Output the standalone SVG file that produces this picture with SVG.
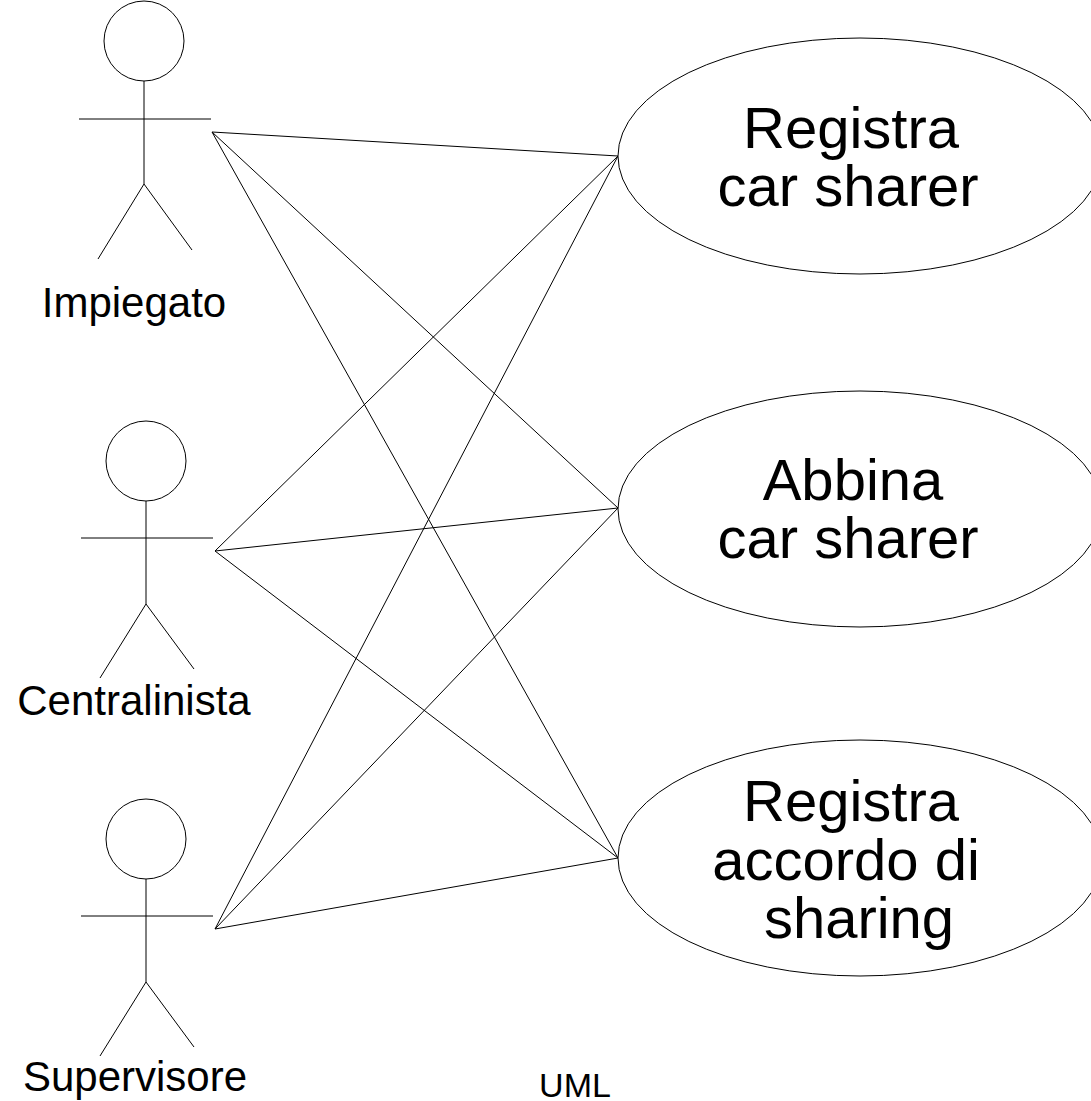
<svg xmlns="http://www.w3.org/2000/svg" width="1091" height="1101" viewBox="0 0 1091 1101">
<style>
line,circle,ellipse{fill:none;stroke:#000;stroke-width:1}
ellipse,circle{fill:#fff}
text{font-family:"Liberation Sans",Arial,sans-serif;fill:#000;text-anchor:middle}
.a{font-size:42px}.u{font-size:58px}.m{font-size:34px}
</style>
<rect width="1091" height="1101" fill="#fff"/>
<g id="connectors">
<line x1="212" y1="132" x2="618" y2="156"/>
<line x1="212" y1="132" x2="618" y2="508"/>
<line x1="212" y1="132" x2="618" y2="858"/>
<line x1="215" y1="551" x2="618" y2="156"/>
<line x1="215" y1="551" x2="618" y2="508"/>
<line x1="215" y1="551" x2="618" y2="858"/>
<line x1="215" y1="929" x2="618" y2="156"/>
<line x1="215" y1="929" x2="618" y2="508"/>
<line x1="215" y1="929" x2="618" y2="858"/>
</g>
<g id="actor-impiegato"><circle cx="144" cy="41" r="40"/><line x1="144" y1="81" x2="144" y2="184"/><line x1="79" y1="119" x2="211" y2="119"/><line x1="144" y1="184" x2="98" y2="259"/><line x1="144" y1="184" x2="192" y2="250"/><text class="a" x="134" y="316.5">Impiegato</text></g>
<g id="actor-centralinista"><circle cx="146" cy="461" r="40"/><line x1="146" y1="501" x2="146" y2="604"/><line x1="81" y1="538" x2="213" y2="538"/><line x1="146" y1="604" x2="100" y2="678"/><line x1="146" y1="604" x2="194" y2="669"/><text class="a" x="134" y="714.5">Centralinista</text></g>
<g id="actor-supervisore"><circle cx="146" cy="839" r="40"/><line x1="146" y1="879" x2="146" y2="982"/><line x1="81" y1="916" x2="213" y2="916"/><line x1="146" y1="982" x2="100" y2="1056"/><line x1="146" y1="982" x2="194" y2="1047"/><text class="a" x="135" y="1091">Supervisore</text></g>
<g id="uc-registra"><ellipse cx="860" cy="156" rx="242" ry="118"/><text class="u" x="851" y="148">Registra</text><text class="u" x="848" y="206">car sharer</text></g>
<g id="uc-abbina"><ellipse cx="860" cy="509" rx="242" ry="118"/><text class="u" x="853" y="500">Abbina</text><text class="u" x="848" y="558">car sharer</text></g>
<g id="uc-accordo"><ellipse cx="860" cy="858" rx="242" ry="118"/><text class="u" x="851" y="821">Registra</text><text class="u" x="846" y="880">accordo di</text><text class="u" x="859" y="938">sharing</text></g>
<text class="m" x="575" y="1097" id="label-uml">UML</text>
</svg>
